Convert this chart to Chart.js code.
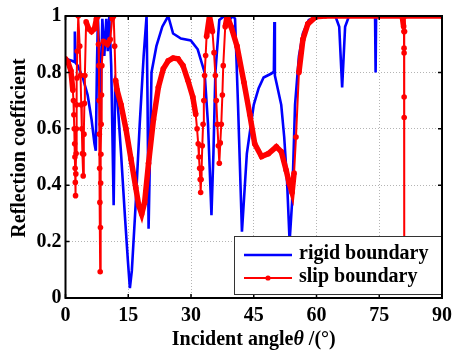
<!DOCTYPE html>
<html>
<head>
<meta charset="utf-8">
<script src="https://cdn.jsdelivr.net/npm/chart.js@4.4.1/dist/chart.umd.min.js"></script>
<style>
  html, body { margin: 0; padding: 0; background: #fff; }
  #wrap { width: 458px; height: 355px; }
</style>
</head>
<body>
<div id="wrap"><canvas id="chart" width="458" height="355"></canvas></div>
<script>
// values (angle in degrees, reflection coefficient)
const seriesNames = ['rigid boundary', 'slip boundary'];

const rigidAngle = [0, 1.53, 2.11, 2.23, 2.4, 2.94, 4.11, 5.29, 6.23, 6.93, 7.24, 7.52, 7.75, 7.99, 8.34, 8.58, 8.81,
  9.28, 9.75, 10.1, 10.46, 10.93, 11.51, 11.87, 12.34, 13.28, 14.22, 14.92, 15.39, 15.86, 16.8, 17.74, 18.68, 19.38,
  19.62, 19.86, 20.2, 20.56, 21.73, 23.14, 24.55, 25.72, 27.6, 29.95, 31.6, 33.25, 34.07, 34.89, 35.36, 35.83, 36.77,
  37.95, 39.36, 40.06, 40.53, 41.24, 42.18, 43.35, 45.0, 46.17, 47.35, 49.23, 49.81, 49.93, 50.05, 50.4, 51.57, 52.28,
  52.98, 53.57, 54.16, 54.87, 55.8, 56.75, 58.15, 60.5, 64.5, 65.43, 66.13, 66.84, 67.78, 74.0, 74.13, 74.25, 90];
const rigidValue = [0.848, 0.841, 0.837, 0.945, 0.834, 0.824, 0.782, 0.72, 0.633, 0.547, 0.522, 0.824, 0.99, 0.893, 0.574, 0.824, 0.99,
  0.858, 0.99, 0.875, 0.997, 0.824, 0.329, 0.754, 0.72, 0.512, 0.287, 0.131, 0.035, 0.097, 0.339, 0.616, 0.858, 1.0,
  0.685, 0.246, 0.512, 0.8, 0.893, 0.962, 1.0, 0.938, 0.92, 0.913, 0.882, 0.8, 0.616, 0.294, 0.512, 0.8, 0.986,
  1.0, 0.99, 1.0, 0.99, 0.685, 0.235, 0.512, 0.685, 0.744, 0.782, 0.796, 0.803, 0.979, 0.789, 0.765, 0.685, 0.571,
  0.408, 0.2, 0.339, 0.685, 0.858, 0.938, 0.986, 1.0, 1.0, 0.962, 0.747, 0.962, 1.0, 1.0, 0.8, 1.0, 1.0];

const slipAngle = [0, 0.59, 1.29, 1.76, 1.9, 2.0, 2.1, 2.19, 2.25, 2.3, 2.35, 2.4, 2.47, 2.54, 2.6, 2.66, 2.74, 2.82, 3.05,
  3.4, 3.6, 3.76, 3.9, 4.04, 4.23, 4.33, 4.42, 4.52, 4.63, 4.93, 5.52, 6.23, 6.93, 7.4, 7.75, 7.88, 7.99, 8.05, 8.1,
  8.16, 8.22, 8.29, 8.35, 8.41, 8.47, 8.53, 8.61, 8.69, 9.05, 9.99, 10.69, 11.16, 11.51, 11.75, 11.98, 12.34, 13.28,
  14.45, 15.62, 16.8, 17.5, 18.21, 18.91, 19.85, 21.03, 22.2, 23.38, 24.55, 25.72, 26.9, 28.08, 29.25, 30.43, 31.13,
  31.45, 31.72, 31.9, 32.07, 32.2, 32.31, 32.42, 32.54, 32.7, 32.89, 33.07, 33.25, 33.5, 33.72, 34.42, 35.13, 35.5,
  35.83, 36.05, 36.3, 36.55, 36.77, 37.0, 37.24, 37.5, 37.71, 38.18, 38.65, 39.59, 41.0, 42.65, 44.05, 45.23, 46.87,
  48.52, 50.4, 51.57, 52.75, 53.45, 54.16, 54.64, 55.1, 55.8, 56.75, 57.93, 59.8, 62.15, 80.47, 80.83, 80.9, 80.93,
  80.94, 80.95, 80.96, 80.97, 81.05, 81.16, 90];
const slipValue = [0.848, 0.837, 0.806, 0.737, 0.7, 0.65, 0.6, 0.547, 0.5, 0.46, 0.41, 0.363, 0.44, 0.512, 0.6, 0.685, 0.78, 0.875, 1.0,
  0.893, 0.79, 0.685, 0.6, 0.512, 0.433, 0.51, 0.581, 0.69, 0.789, 0.979, 0.955, 0.945, 0.955, 0.99, 1.0, 0.9, 0.824, 0.7, 0.581,
  0.46, 0.339, 0.093, 0.25, 0.408, 0.51, 0.616, 0.72, 0.824, 0.91, 0.9, 0.917, 0.99, 1.0, 0.893, 0.772, 0.737, 0.685,
  0.599, 0.495, 0.391, 0.329, 0.298, 0.339, 0.478, 0.633, 0.747, 0.813, 0.841, 0.851, 0.848, 0.824, 0.772, 0.713, 0.651,
  0.6, 0.547, 0.5, 0.46, 0.42, 0.374, 0.42, 0.46, 0.54, 0.616, 0.7, 0.789, 0.86, 0.927, 1.0, 0.945, 0.87,
  0.789, 0.7, 0.616, 0.54, 0.478, 0.55, 0.616, 0.72, 0.824, 0.962, 1.0, 0.962, 0.893, 0.765, 0.651, 0.547, 0.502,
  0.512, 0.536, 0.519, 0.453, 0.408, 0.374, 0.443, 0.571, 0.8, 0.917, 0.972, 0.997, 1.0, 1.0, 0.962, 0.945, 0.886,
  0.869, 0.713, 0.64, 0.15, 0.945, 1.0, 1.0];

const xTickValues = [0, 15, 30, 45, 60, 75, 90];
const yTickValues = [0, 0.2, 0.4, 0.6, 0.8, 1];
const yTickLabels = ['0', '0.2', '0.4', '0.6', '0.8', '1'];

const FONT = '"Liberation Serif", "Times New Roman", serif';
Chart.defaults.font.family = FONT;
Chart.defaults.color = '#000';

const toPoints = (xs, ys) => xs.map((x, i) => ({ x: x, y: ys[i] }));

// frame, inward ticks, axis titles and the boxed legend
const decorations = {
  id: 'decorations',
  afterDraw(chart) {
    const { ctx, chartArea: ca, scales } = chart;
    ctx.save();

    // inward tick marks on all four sides
    ctx.strokeStyle = '#000';
    ctx.lineWidth = 1.5;
    ctx.beginPath();
    xTickValues.forEach(v => {
      const px = scales.x.getPixelForValue(v);
      ctx.moveTo(px, ca.bottom); ctx.lineTo(px, ca.bottom - 4);
      ctx.moveTo(px, ca.top); ctx.lineTo(px, ca.top + 4);
    });
    yTickValues.forEach(v => {
      const py = scales.y.getPixelForValue(v);
      ctx.moveTo(ca.left, py); ctx.lineTo(ca.left + 4, py);
      ctx.moveTo(ca.right, py); ctx.lineTo(ca.right - 4, py);
    });
    ctx.stroke();

    // legend box
    const bx = ca.right - 208, by = ca.bottom - 62, bw = 208, bh = 59;
    ctx.fillStyle = '#fff';
    ctx.fillRect(bx, by, bw, bh);
    ctx.strokeStyle = '#333';
    ctx.lineWidth = 1;
    ctx.strokeRect(bx + 0.5, by + 0.5, bw - 1, bh - 1);

    ctx.lineWidth = 2.6;
    ctx.strokeStyle = '#0000ff';
    ctx.beginPath(); ctx.moveTo(bx + 10, by + 19); ctx.lineTo(bx + 58, by + 19); ctx.stroke();
    ctx.lineWidth = 2;
    ctx.strokeStyle = '#ff0000';
    ctx.beginPath(); ctx.moveTo(bx + 10, by + 42); ctx.lineTo(bx + 58, by + 42); ctx.stroke();
    ctx.fillStyle = '#ff0000';
    ctx.beginPath(); ctx.arc(bx + 34, by + 42, 2.6, 0, Math.PI * 2); ctx.fill();

    ctx.fillStyle = '#000';
    ctx.font = 'bold 20px ' + FONT;
    ctx.textAlign = 'left';
    ctx.textBaseline = 'middle';
    ctx.fillText(seriesNames[0], bx + 65, by + 18);
    ctx.fillText(seriesNames[1], bx + 65, by + 41);

    // frame
    ctx.strokeStyle = '#000';
    ctx.lineWidth = 2;
    ctx.strokeRect(ca.left, ca.top, ca.right - ca.left, ca.bottom - ca.top);

    // x title with italic theta
    const parts = [
      ['bold 20px ' + FONT, 'Incident angle'],
      ['italic bold 20px ' + FONT, '\u03b8'],
      ['bold 20px ' + FONT, ' /(\u00b0)']
    ];
    let total = 0;
    parts.forEach(p => { ctx.font = p[0]; total += ctx.measureText(p[1]).width; });
    let cx = (ca.left + ca.right) / 2 - total / 2;
    ctx.textBaseline = 'alphabetic';
    parts.forEach(p => {
      ctx.font = p[0];
      ctx.fillText(p[1], cx, 345);
      cx += ctx.measureText(p[1]).width;
    });

    // y title
    ctx.translate(25, 148);
    ctx.rotate(-Math.PI / 2);
    ctx.textAlign = 'center';
    ctx.font = 'bold 20px ' + FONT;
    ctx.fillText('Reflection coefficient', 0, 0);

    ctx.restore();
  }
};

new Chart(document.getElementById('chart'), {
  type: 'line',
  data: {
    datasets: [
      {
        label: seriesNames[0],
        data: toPoints(rigidAngle, rigidValue),
        borderColor: '#0000ff',
        borderWidth: 2.6,
        pointRadius: 0,
        tension: 0,
        order: 2
      },
      {
        label: seriesNames[1],
        data: toPoints(slipAngle, slipValue),
        borderColor: '#ff0000',
        backgroundColor: '#ff0000',
        borderWidth: 2,
        pointRadius: 2.8,
        pointBorderWidth: 0,
        pointBackgroundColor: '#ff0000',
        tension: 0,
        order: 1,
        segment: {
          // the densely sampled red curve looks thick unless it is near vertical
          borderWidth: c => {
            const dx = Math.abs(c.p1.x - c.p0.x), dy = Math.abs(c.p1.y - c.p0.y);
            return dy > 10 * dx ? 2 : 5.5;
          }
        }
      }
    ]
  },
  options: {
    responsive: false,
    animation: false,
    layout: { padding: { left: 0, top: 9, right: 9.5, bottom: 0 } },
    plugins: { legend: { display: false }, tooltip: { enabled: false } },
    scales: {
      x: {
        type: 'linear',
        min: 0,
        max: 90,
        afterBuildTicks: s => { s.ticks = xTickValues.map(v => ({ value: v })); },
        afterFit: s => { s.height = 57; },
        ticks: { font: { size: 20, weight: 'bold' }, padding: 6, maxRotation: 0 },
        grid: { color: '#b4b4b4', lineWidth: 1, drawTicks: false },
        border: { display: false, dash: [1, 2] }
      },
      y: {
        min: 0,
        max: 1,
        afterBuildTicks: s => { s.ticks = yTickValues.map(v => ({ value: v })); },
        afterFit: s => { s.width = 65.5; },
        ticks: {
          font: { size: 20, weight: 'bold' },
          padding: 4,
          callback: (v, i) => yTickLabels[i]
        },
        grid: { color: '#b4b4b4', lineWidth: 1, drawTicks: false },
        border: { display: false, dash: [1, 2] }
      }
    }
  },
  plugins: [decorations]
});
</script>
</body>
</html>
